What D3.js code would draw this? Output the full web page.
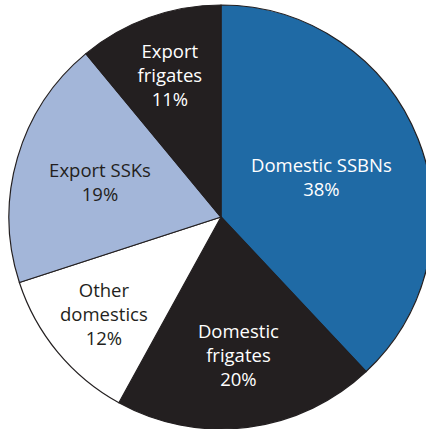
<!DOCTYPE html>
<html>
<head>
<meta charset="utf-8">
<script src="https://cdn.jsdelivr.net/npm/d3@7"></script>
<style>
html,body{margin:0;padding:0;background:#fff;overflow:hidden;}
svg{display:block;}
</style>
</head>
<body>
<svg id="chart" width="426" height="429"></svg>
<script>
// Data
const categories = ["Domestic SSBNs", "Domestic frigates", "Other domestics", "Export SSKs", "Export frigates"];
const labelLines = [["Domestic SSBNs"], ["Domestic", "frigates"], ["Other", "domestics"], ["Export SSKs"], ["Export", "frigates"]];
const shares = [38, 20, 12, 19, 11];

// Style / layout
const colors = ["#1f6aa5", "#231f20", "#ffffff", "#a3b6d9", "#231f20"];
const textColors = ["#ffffff", "#ffffff", "#231f20", "#231f20", "#ffffff"];
const labelRadius = [108, 139, 152, 126, 151];

const svg = d3.select("#chart");
const cx = 221, cy = 217, R = 212;
const g = svg.append("g").attr("transform", `translate(${cx},${cy})`);

const data = categories.map((c, i) => ({ name: c, lines: labelLines[i], value: shares[i], i }));
const pie = d3.pie().value(d => d.value).sort(null);
const arcs = pie(data);
const arc = d3.arc().innerRadius(0).outerRadius(R);

g.selectAll("path.slice")
  .data(arcs)
  .join("path")
  .attr("class", "slice")
  .attr("d", arc)
  .attr("fill", d => colors[d.data.i])
  .attr("stroke", "#231f20")
  .attr("stroke-width", 1.2)
  .attr("stroke-linejoin", "round");

const fontSize = 18.5, lineH = 24;
g.selectAll("text.lbl")
  .data(arcs)
  .join("text")
  .attr("class", "lbl")
  .attr("text-anchor", "middle")
  .attr("font-family", "'Open Sans', 'Noto Sans', sans-serif")
  .attr("font-size", fontSize)
  .attr("fill", d => textColors[d.data.i])
  .each(function(d) {
    const a = (d.startAngle + d.endAngle) / 2;
    const r = labelRadius[d.data.i];
    const x = Math.sin(a) * r, y = -Math.cos(a) * r;
    const lines = d.data.lines.concat([d.data.value + "%"]);
    const n = lines.length;
    const t = d3.select(this);
    lines.forEach((ln, k) => {
      t.append("tspan")
        .attr("x", x)
        .attr("y", y + (k - (n - 1) / 2) * lineH + fontSize * 0.36)
        .text(ln);
    });
  });
</script>
</body>
</html>
